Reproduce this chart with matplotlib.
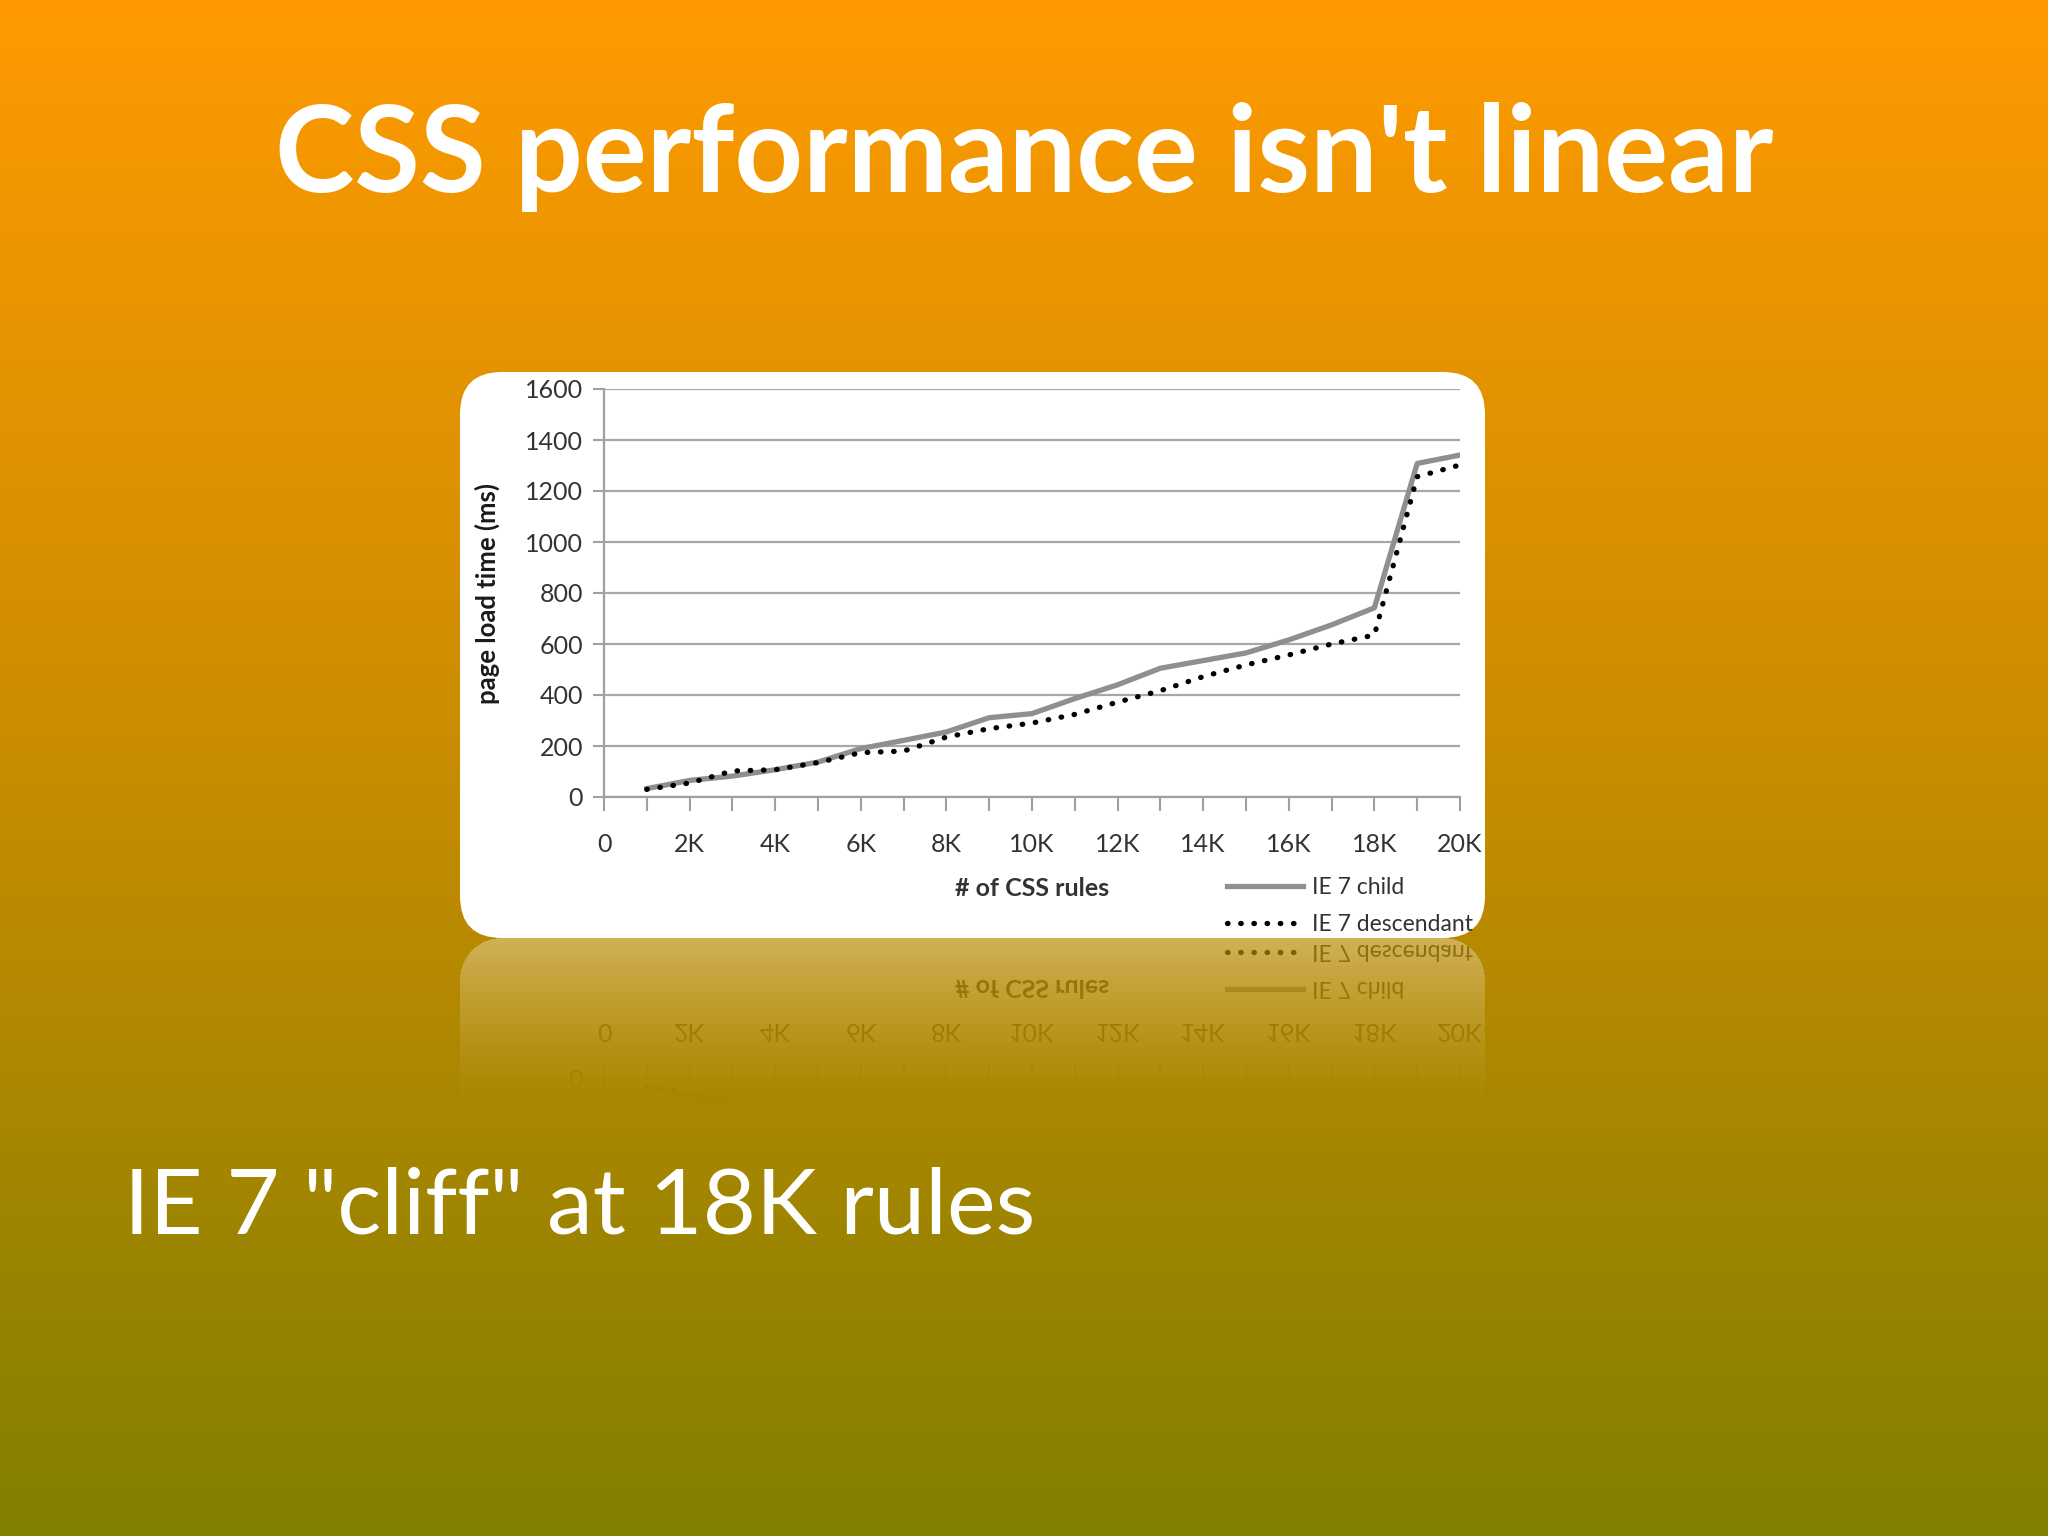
import numpy as np
import matplotlib
matplotlib.use("Agg")
import matplotlib.pyplot as plt
from matplotlib.patches import FancyBboxPatch
from matplotlib.ticker import MultipleLocator

# ---------------- data ----------------
rules_k = [1, 2, 3, 4, 5, 6, 7, 8, 9, 10, 11, 12, 13, 14, 15, 16, 17, 18, 19, 20]
ie7_child = [33, 65, 82, 107, 137, 190, 222, 255, 311, 327, 386, 440, 505, 535, 565, 616, 675, 742, 1308, 1341]
ie7_descendant = [30, 55, 102, 107, 135, 174, 180, 235, 268, 290, 324, 372, 417, 472, 518, 557, 600, 635, 1256, 1302]
y_ticks = [0, 200, 400, 600, 800, 1000, 1200, 1400, 1600]
x_tick_values = [0, 2000, 4000, 6000, 8000, 10000, 12000, 14000, 16000, 18000, 20000]
x_tick_labels = ["0", "2K", "4K", "6K", "8K", "10K", "12K", "14K", "16K", "18K", "20K"]
series_labels = ["IE 7 child", "IE 7 descendant"]
title = "CSS performance isn't linear"
subtitle = 'IE 7 "cliff" at 18K rules'
x_label = "# of CSS rules"
y_label = "page load time (ms)"

W, H = 2048, 1536
fig = plt.figure(figsize=(W / 100, H / 100), dpi=100)

# background axes in pixel coordinates
bg = fig.add_axes([0, 0, 1, 1])
bg.axis("off")
pos = [0.0, 0.5, 1.0]
cols = np.array([[255, 154, 0], [200, 140, 0], [130, 128, 0]]) / 255.0
t = np.linspace(0, 1, H)
grad = np.stack([np.interp(t, pos, cols[:, i]) for i in range(3)], axis=1)
img = np.repeat(grad[:, None, :], 4, axis=1)
bg.imshow(img, extent=(0, W, H, 0), aspect="auto", interpolation="bilinear", zorder=0)

BX0, BY0, BW, BH, R = 460, 372, 1025, 566, 42
box = FancyBboxPatch((BX0, BY0), BW, BH, boxstyle=f"round,pad=0,rounding_size={R}",
                     fc="white", ec="none", zorder=2)
bg.add_patch(box)
bg.set_xlim(0, W)
bg.set_ylim(H, 0)

t_title = bg.text(W / 2, 192, title, ha="center", va="baseline", fontsize=84, fontweight="bold",
                  family="Lato", color="white", zorder=5)
t_sub = bg.text(124, 1233, subtitle, ha="left", va="baseline", fontsize=66,
                family="Lato", color="white", zorder=5)

# fit text widths to the slide layout
renderer = fig.canvas.get_renderer()
for txt, target in ((t_title, 1498), (t_sub, 912)):
    wpx = txt.get_window_extent(renderer).width
    txt.set_fontsize(txt.get_fontsize() * target / wpx)

# chart axes
ax = fig.add_axes([604 / W, 1 - 797 / H, (1460 - 604) / W, (797 - 389) / H])
ax.set_facecolor("none")
ax.set_zorder(3)
xs = np.array(rules_k) * 1000
l1, = ax.plot(xs, ie7_child, color="#8F8F8F", lw=3.8, label=series_labels[0], zorder=3)
l2, = ax.plot(xs, ie7_descendant, color="black", lw=3.8, linestyle=(0, (0.1, 2.4)),
              dash_capstyle="round", label=series_labels[1], zorder=4)
ax.set_xlim(0, 20000)
ax.set_ylim(0, 1600)
ax.set_yticks(y_ticks)
ax.set_xticks(x_tick_values)
ax.set_xticklabels(x_tick_labels)
ax.xaxis.set_minor_locator(MultipleLocator(1000))
ax.tick_params(axis="x", which="both", length=10, width=1.5, color="#A0A0A0", direction="out",
               pad=16, labelsize=18, labelcolor="#333333")
ax.tick_params(axis="y", length=8, width=1.5, color="#A0A0A0", pad=7,
               labelsize=18, labelcolor="#333333")
for lab in ax.get_xticklabels() + ax.get_yticklabels():
    lab.set_family("Lato")
ax.set_axisbelow(True)
ax.grid(axis="y", color="#A8A8A8", lw=1.6)
for s in ["top", "right"]:
    ax.spines[s].set_visible(False)
for s in ["left", "bottom"]:
    ax.spines[s].set_color("#A0A0A0")
    ax.spines[s].set_linewidth(1.6)

ax.set_xlabel(x_label, fontsize=18, fontweight="bold", family="Lato", color="#333333")
ax.xaxis.set_label_coords(0.5, -0.195)
ax.set_ylabel(y_label, fontsize=18.5, fontweight="bold", family="Lato", color="#1A1A1A")
ax.yaxis.set_label_coords(-0.122, 0.5)

leg = fig.legend(handles=[l1, l2], labels=series_labels, loc="upper left",
                 bbox_to_anchor=(1227, 877), bbox_transform=bg.transData,
                 frameon=False, fontsize=16.5, handlelength=3.3, handletextpad=0.4,
                 labelspacing=0.68, borderpad=0, borderaxespad=0)
for txt in leg.get_texts():
    txt.set_family("Lato")
    txt.set_color("#333333")
    txt.set_clip_path(box)
leg.set_zorder(6)

# reflection of the bottom part of the white box
fig.canvas.draw()
buf = np.asarray(fig.canvas.buffer_rgba()).astype(float) / 255.0
Rh = 170
yb = BY0 + BH
src = buf[yb - Rh:yb, BX0:BX0 + BW, :3]
rr, cc = np.mgrid[yb - Rh:yb, BX0:BX0 + BW] + 0.5
mask = np.ones(rr.shape)
cy = yb - R
for cx, side in ((BX0 + R, -1), (BX0 + BW - R, 1)):
    in_corner = (rr > cy) & ((cc - cx) * side > 0)
    d = np.hypot(rr - cy, cc - cx)
    mask[in_corner & (d > R)] = 0
src = src[::-1]
mask = mask[::-1]
k = np.arange(Rh)[:, None]
alpha = 0.34 * (1 - k / Rh) ** 1.3 * mask
rgba = np.dstack([src, alpha])
bg.imshow(rgba, extent=(BX0, BX0 + BW, yb + Rh, yb), aspect="auto",
          interpolation="bilinear", zorder=1.5)
bg.set_xlim(0, W)
bg.set_ylim(H, 0)

fig.savefig("out.png", dpi=100)
